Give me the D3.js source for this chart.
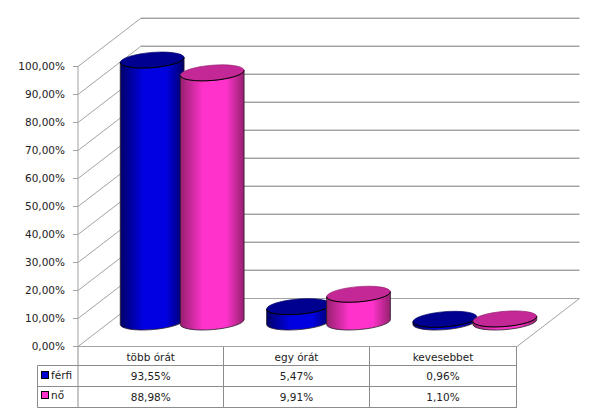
<!DOCTYPE html>
<html><head><meta charset="utf-8">
<script src="https://cdn.jsdelivr.net/npm/d3@7"></script>
<style>html,body{margin:0;padding:0;background:#fff}svg{display:block}text{font-family:"DejaVu Sans",sans-serif;font-size:10.5px;fill:#222}</style>
</head><body><div id="c"></div>
<script>
const categories = ["több órát","egy órát","kevesebbet"];
const seriesNames = ["férfi","nő"];
const ferfi = [93.55,5.47,0.96];
const no = [88.98,9.91,1.10];
const ferfiLabels = ["93,55%","5,47%","0,96%"];
const noLabels = ["88,98%","9,91%","1,10%"];
const ticks = [0,10,20,30,40,50,60,70,80,90,100];
const tickLabel = d => d.toFixed(2).replace(".",",")+"%";

const W=606,H=417;
const svg=d3.select("#c").append("svg").attr("width",W).attr("height",H);
const x0=78,x1=517,dx=62.5,dy=-48;
const y=d3.scaleLinear().domain([0,100]).range([345.5,66]);
const grid="#a3a3a3";
const defs=svg.append("defs");
const palette=[
 {edge:"#000068",mid:"#0000e0",top:"#000090",key:"#0000cc"},
 {edge:"#96206f",mid:"#ff33cc",top:"#c42796",key:"#ff33cc"}];
palette.forEach((p,i)=>{
 const g=defs.append("linearGradient").attr("id","g"+i);
 [[0,p.edge],[.36,p.mid],[.72,p.mid],[1,p.edge]].forEach(s=>g.append("stop").attr("offset",s[0]).attr("stop-color",s[1]));
});
const line=(a,b,c,d,col=grid,w=1)=>svg.append("line").attr("x1",a).attr("y1",b).attr("x2",c).attr("y2",d).attr("stroke",col).attr("stroke-width",w);
ticks.forEach(t=>{
 const yy=Math.round(y(t))+.5;
 line(x0-5,yy,x0,yy);
 if(t>0){
  line(x0,yy,x0+dx,yy+dy);
  line(x0+dx,yy+dy-1,x1+dx,yy+dy-1,"#d6d6d6");
  line(x0+dx,yy+dy,x1+dx,yy+dy,"#a0a0a0");
 }
 svg.append("text").attr("x",65).attr("y",yy+3).attr("text-anchor","end").text(tickLabel(t));
});
const by=Math.round(y(0))+.5;
line(x0,by,x0+dx,by+dy);
line(x0+dx,by+dy,x1+dx,by+dy);
line(x1,by,x1+dx,by+dy);
line(x0,y(100),x0,by);
const xBand=d3.scaleBand().domain(categories).range([x0+31,x1+31]);
const xSer=d3.scaleBand().domain(seriesNames).range([xBand.bandwidth()/2-60,xBand.bandwidth()/2+60]);
const h=d3.scaleLinear().domain([0,100]).range([322,42]);
const a=32,b=7.6,rot=-4.7,hw=31.9,sk=2.5;
[ferfi,no].forEach((vals,si)=>{
 const s=svg.append("g");
 vals.forEach((v,ci)=>{
  const cx=xBand(categories[ci])+xSer(seriesNames[si])+xSer.bandwidth()/2;
  const yt=h(v),yb=h(0);
  s.append("path").attr("d",`M${cx-hw},${yt+sk}L${cx-hw},${yb+sk}A${a},${b} ${rot} 0 0 ${cx+hw},${yb-sk}L${cx+hw},${yt-sk}Z`)
   .attr("fill",`url(#g${si})`).attr("stroke","#2a1a2a").attr("stroke-width",.8);
  s.append("path").attr("d",`M${cx-hw},${yt+sk}A${a},${b} ${rot} 1 1 ${cx+hw},${yt-sk}A${a},${b} ${rot} 1 1 ${cx-hw},${yt+sk}Z`)
   .attr("fill",palette[si].top).attr("stroke",palette[si].edge).attr("stroke-width",.7);
  s.append("path").attr("d",`M${cx-hw},${yt+sk}A${a},${b} ${rot} 0 0 ${cx+hw},${yt-sk}`)
   .attr("fill","none").attr("stroke","#000").attr("stroke-width",1);
 });
});
const colX=[x0,223.5,369.5,516.5];
const rowY=[by,365.5,386.5,407.5];
const tc="#8c8c8c";
[1,2,3].forEach(r=>line(37.5,rowY[r],x1,rowY[r],tc));
line(37.5,rowY[1],37.5,rowY[3],tc);
colX.forEach(c=>line(c,rowY[0],c,rowY[3],tc));
line(x0-5,by,x1,by,"#a3a3a3");
categories.forEach((c,i)=>{
 const m=(colX[i]+colX[i+1])/2;
 svg.append("text").attr("x",m).attr("y",361).attr("text-anchor","middle").text(c);
 svg.append("text").attr("x",m).attr("y",380).attr("text-anchor","middle").text(ferfiLabels[i]);
 svg.append("text").attr("x",m).attr("y",401).attr("text-anchor","middle").text(noLabels[i]);
});
seriesNames.forEach((n,i)=>{
 const ty=[380,400][i];
 svg.append("rect").attr("x",41.5).attr("y",ty-8.5).attr("width",7).attr("height",7).attr("fill",palette[i].key).attr("stroke","#000");
 svg.append("text").attr("x",51).attr("y",ty-1).text(n);
});
</script></body></html>
